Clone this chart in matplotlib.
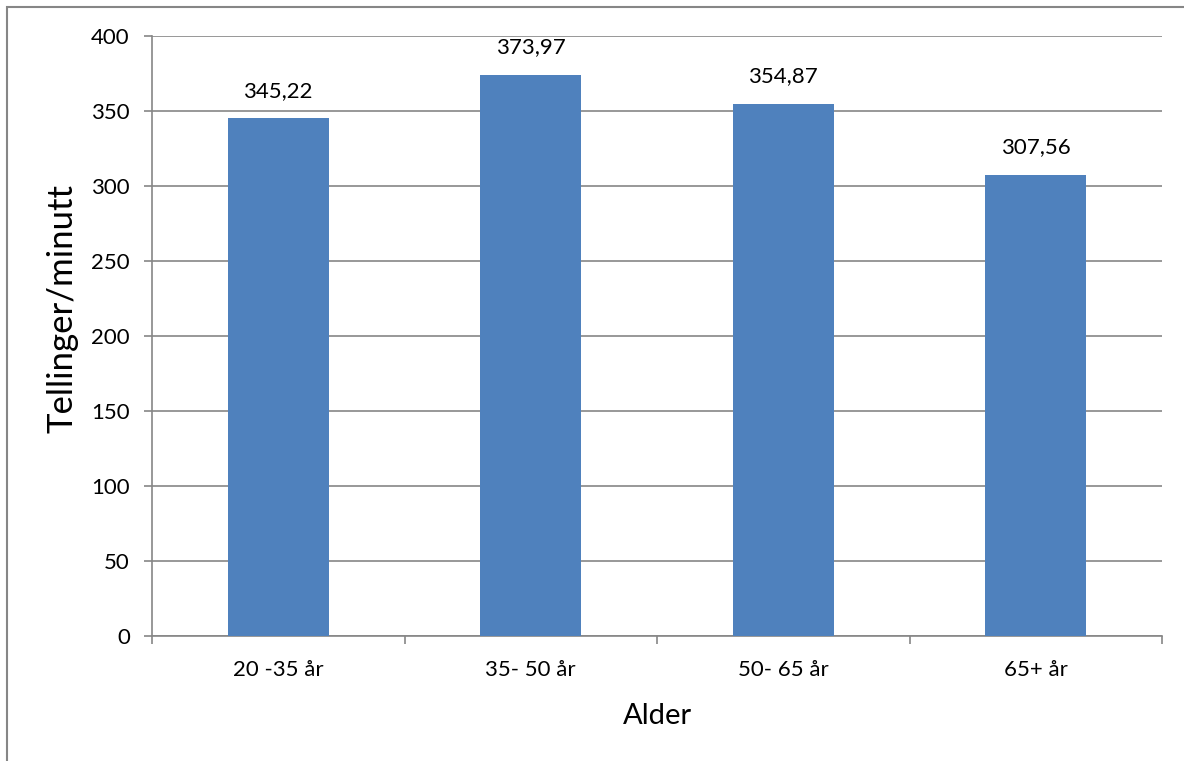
import matplotlib.pyplot as plt
import numpy as np
from matplotlib.patches import Rectangle

# aldersgrupper og tellinger per minutt
grupper = ['20 -35 år', '35- 50 år', '50- 65 år', '65+ år']
tellinger = [345.22, 373.97, 354.87, 307.56]
etiketter = ['345,22', '373,97', '354,87', '307,56']
y_ticks = np.arange(0, 401, 50)

plt.rcParams['font.family'] = ['Lato', 'DejaVu Sans']
grid_col = '#868686'

fig = plt.figure(figsize=(11.84, 7.61), dpi=100)
ax = fig.add_axes([152/1184, 1-636/761, 1010/1184, 600/761])

x = np.arange(len(grupper))
bars = ax.bar(x, tellinger, width=0.4, color='#4F81BD', zorder=3)

for b, txt in zip(bars, etiketter):
    ax.annotate(txt, (b.get_x() + b.get_width()/2, b.get_height()),
                xytext=(0, 15.5), textcoords='offset points',
                ha='center', va='baseline', fontsize=16)

ax.set_xlim(-0.5, 3.5)
ax.set_ylim(0, 400)
ax.set_yticks(y_ticks)
ax.yaxis.grid(True, color=grid_col, linewidth=1.2, zorder=0)

# tick marks sit on the category boundaries
ax.set_xticks(np.arange(-0.5, 4, 1))
ax.set_xticklabels([])
ax.set_xticks(x, minor=True)
ax.set_xticklabels(grupper, minor=True, fontsize=16)
ax.tick_params(axis='x', which='minor', length=0, pad=17)
ax.tick_params(axis='x', which='major', length=6, width=1.2, color=grid_col, direction='out')
ax.tick_params(axis='y', length=6, width=1.2, color=grid_col, labelsize=16, pad=10)

for s in ['top', 'right']:
    ax.spines[s].set_visible(False)
for s in ['left', 'bottom']:
    ax.spines[s].set_color(grid_col)
    ax.spines[s].set_linewidth(1.2)

ax.set_xlabel('Alder', fontsize=21)
ax.xaxis.set_label_coords(0.5, -0.112)
ax.set_ylabel('Tellinger/minutt', fontsize=25)
ax.yaxis.set_label_coords(-0.073, 0.546)

# ramme rundt hele diagrammet
fig.patches.append(Rectangle((6.5/1184, -0.1), 1.2, 1.1 - 6.5/761, transform=fig.transFigure,
                             fill=False, edgecolor=grid_col, linewidth=1.5))

fig.savefig('out.png', dpi=100)
